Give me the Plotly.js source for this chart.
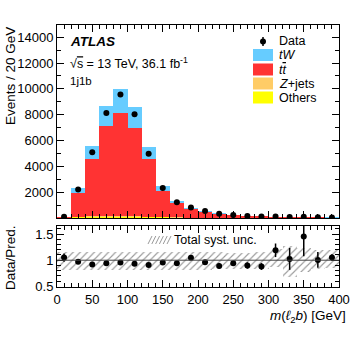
<!DOCTYPE html>
<html>
<head>
<meta charset="utf-8">
<script src="https://cdn.plot.ly/plotly-3.0.1.min.js"></script>
<style>
  html, body { margin: 0; padding: 0; background: #fff; }
  #chart { width: 357px; height: 348px; }
</style>
</head>
<body>
<div id="chart"></div>
<script>
// bin centres of m(l2b), 20 GeV bins
const binCenters = [10, 30, 50, 70, 90, 110, 130, 150, 170, 190, 210, 230, 250, 270, 290, 310, 330, 350, 370, 390];

// stacked predictions (events / 20 GeV)
const others = [15, 60, 90, 100, 100, 90, 70, 50, 35, 25, 18, 14, 10, 8, 6, 5, 4, 3, 3, 2];
const zjets  = [10, 30, 40, 40, 35, 30, 25, 20, 15, 10, 8, 6, 5, 4, 3, 2, 2, 2, 1, 1];
const ttbar  = [55, 1840, 4460, 6980, 8015, 6890, 4445, 1990, 1080, 665, 464, 320, 215, 148, 111, 78, 64, 45, 36, 32];
const tW     = [15, 390, 980, 1540, 1830, 1570, 950, 410, 210, 100, 80, 60, 40, 30, 20, 15, 10, 10, 10, 5];

// observed data
const data = [99, 2200, 5100, 8140, 9570, 8040, 4970, 2320, 1210, 820, 540, 330, 230, 150, 110, 120, 82, 88, 50, 42];

// lower panel: data / prediction
const ratio    = [1.05, 0.97, 0.92, 0.94, 0.955, 0.93, 0.91, 0.955, 0.94, 1.045, 0.96, 0.89, 0.94, 0.90, 0.88, 1.19, 1.025, 1.455, 1.006, 1.05];
const ratioErr = [0.08, 0.02, 0.015, 0.012, 0.012, 0.012, 0.015, 0.02, 0.03, 0.04, 0.04, 0.05, 0.05, 0.06, 0.065, 0.13, 0.21, 0.38, 0.15, 0.065];
const systUp   = [1.16, 1.16, 1.16, 1.16, 1.16, 1.16, 1.16, 1.16, 1.16, 1.16, 1.16, 1.15, 1.14, 1.14, 1.15, 1.21, 1.27, 1.24, 1.19, 1.2];
const systDown = [0.82, 0.82, 0.82, 0.82, 0.82, 0.82, 0.82, 0.82, 0.82, 0.82, 0.82, 0.83, 0.83, 0.83, 0.84, 0.87, 0.68, 0.77, 0.83, 0.85];

const yTicks = [2000, 4000, 6000, 8000, 10000, 12000, 14000];

const colTW = '#66ccff', colTT = '#ff3333', colZ = '#ffcc66', colOth = '#ffff00';
const hatchCol = '#9a9a9a';
const FONT = 'Liberation Sans, Arial, Helvetica, sans-serif';

// pixel -> paper helpers (plot area 57..339 x 25..287)
const PX = p => (p - 57) / 282;
const PY = p => (287 - p) / 262;

function bar(name, y, color) {
    return {
        type: 'bar', name: name, x: binCenters, y: y, width: 20,
        marker: { color: color, line: { width: 0 } },
        xaxis: 'x', yaxis: 'y', hoverinfo: 'skip'
    };
}

const traces = [
    bar('Others', others, colOth),
    bar('Z+jets', zjets, colZ),
    bar('ttbar', ttbar, colTT),
    bar('tW', tW, colTW),
    {
        type: 'scatter', mode: 'markers', name: 'Data', x: binCenters, y: data,
        marker: { color: 'black', size: 6 }, xaxis: 'x', yaxis: 'y'
    },
    {
        type: 'bar', name: 'Total syst. unc.', x: binCenters, base: systDown,
        y: systUp.map((u, i) => u - systDown[i]), width: 20,
        marker: {
            color: 'rgba(0,0,0,0)', line: { width: 0 },
            pattern: { shape: '/', fgcolor: hatchCol, bgcolor: 'rgba(0,0,0,0)', size: 5, solidity: 0.22 }
        },
        xaxis: 'x2', yaxis: 'y2', hoverinfo: 'skip'
    },
    {
        type: 'scatter', mode: 'markers', name: 'ratio', x: binCenters, y: ratio,
        marker: { color: 'black', size: 6 },
        error_y: { type: 'data', array: ratioErr, color: 'black', thickness: 1.5, width: 0 },
        xaxis: 'x2', yaxis: 'y2'
    }
];

const axisStyle = {
    showline: true, linecolor: 'black', linewidth: 1, mirror: 'allticks',
    ticks: 'inside', ticklen: 7, tickwidth: 1, tickcolor: 'black',
    showgrid: false, zeroline: false,
    tickfont: { family: FONT, size: 13, color: 'black' }
};

// legend entries
const legRows = [
    { label: '<i>tW</i>', color: colTW, y: 55 },
    { label: '<i>t<span style="text-decoration:overline">t</span></i>', color: colTT, y: 69.5 },
    { label: '<i>Z</i>+jets', color: colZ, y: 83.5 },
    { label: 'Others', color: colOth, y: 97.5 }
];

const shapes = [
    { type: 'line', xref: 'x2', yref: 'y2', x0: 0, x1: 400, y0: 1, y1: 1, line: { color: '#444', width: 1 } },
    // data legend marker
    { type: 'circle', xref: 'paper', yref: 'paper', x0: PX(260), x1: PX(266), y0: PY(44.5), y1: PY(38.5),
      fillcolor: 'black', line: { width: 0 } },
    { type: 'line', xref: 'paper', yref: 'paper', x0: PX(263), x1: PX(263), y0: PY(37), y1: PY(46),
      line: { color: 'black', width: 1.5 } }
];
legRows.forEach(r => {
    shapes.push({ type: 'rect', xref: 'paper', yref: 'paper', x0: PX(253), x1: PX(273), y0: PY(r.y + 6), y1: PY(r.y - 6),
        fillcolor: r.color, line: { width: 0 } });
});
// hatch swatch for syst. band
for (let i = 0; i < 6; i++) {
    const x0 = 148 + i * 3.8;
    shapes.push({ type: 'line', xref: 'paper', yref: 'paper', x0: PX(x0), x1: PX(x0 + 4), y0: PY(244), y1: PY(236),
        line: { color: hatchCol, width: 1 } });
}

function note(text, x, y, size, extra) {
    return Object.assign({
        text: text, xref: 'paper', yref: 'paper', x: PX(x), y: PY(y),
        xanchor: 'left', yanchor: 'middle', showarrow: false,
        font: { family: FONT, size: size, color: 'black' }
    }, extra || {});
}

const annotations = [
    note('<b><i>ATLAS</i></b>', 68, 41, 13.5),
    note('√<span style="text-decoration:overline">s</span> = 13 TeV, 36.1 fb<sup>-1</sup>', 68, 63, 12.5),
    note('1j1b', 68, 81, 11.5),
    note('Data', 277, 41.5, 12.5),
    note('Total syst. unc.', 172, 240, 12.5),
    note('<i>m</i>(<i>ℓ</i><sub>2</sub><i>b</i>) [GeV]', 348, 316, 13.5, { xanchor: 'right' }),
    note('Events / 20 GeV', 10, 25, 13.5, { xanchor: 'center', yanchor: 'top', textangle: -90 }),
    note('Data/Pred.', 10, 258, 13.5, { xanchor: 'center', textangle: -90 })
];
legRows.forEach(r => annotations.push(note(r.label, 277, r.y, 12.5)));

const layout = {
    width: 357, height: 348,
    margin: { l: 57, r: 18, t: 25, b: 61 },
    paper_bgcolor: 'white', plot_bgcolor: 'white',
    font: { family: FONT, size: 13, color: 'black' },
    barmode: 'stack', bargap: 0,
    showlegend: false,
    xaxis: Object.assign({}, axisStyle, {
        domain: [0, 1], anchor: 'y', range: [0, 400], tick0: 0, dtick: 50,
        showticklabels: false, matches: 'x2',
        minor: { dtick: 10, ticklen: 4, ticks: 'inside', tickcolor: 'black' }
    }),
    yaxis: Object.assign({}, axisStyle, {
        domain: [0.2634, 1], anchor: 'x', range: [0, 14950],
        tickmode: 'array', tickvals: yTicks, ticktext: yTicks.map(String),
        minor: { tickmode: 'linear', tick0: 0, dtick: 1000, ticklen: 4, ticks: 'inside', tickcolor: 'black' }
    }),
    xaxis2: Object.assign({}, axisStyle, {
        domain: [0, 1], anchor: 'y2', range: [0, 400], tick0: 0, dtick: 50,
        minor: { dtick: 10, ticklen: 4, ticks: 'inside', tickcolor: 'black' }
    }),
    yaxis2: Object.assign({}, axisStyle, {
        domain: [0, 0.2328], anchor: 'x2', range: [0.487, 1.655],
        tickmode: 'array', tickvals: [0.5, 1, 1.5], ticktext: ['0.5', '1', '1.5'],
        minor: { tickmode: 'linear', tick0: 0, dtick: 0.1, ticklen: 4, ticks: 'inside', tickcolor: 'black' }
    }),
    shapes: shapes,
    annotations: annotations
};

Plotly.newPlot('chart', traces, layout, { staticPlot: true, displayModeBar: false });
</script>
</body>
</html>
